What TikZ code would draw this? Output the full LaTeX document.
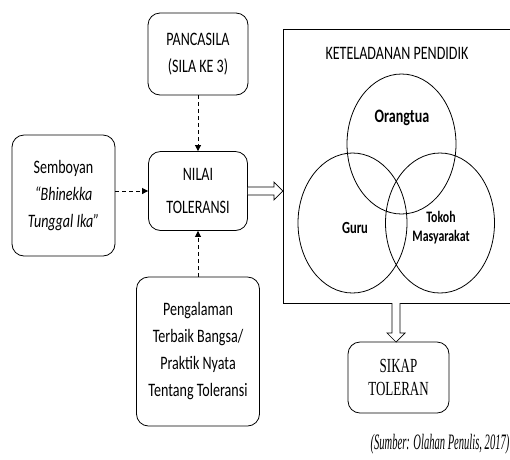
\documentclass[tikz,border=0pt]{standalone}
\usepackage{fontspec}
\setmainfont{Carlito}[FakeStretch=0.74]
\newfontfamily\serifcond{Liberation Serif}[FakeStretch=0.65]
\newfontfamily\capserif{Liberation Serif}[FakeStretch=0.48]
\usetikzlibrary{shapes,arrows.meta}
\tikzstyle{box}=[rectangle,rounded corners=12pt,draw=black,
  line width=0.8pt,inner sep=0pt,align=center,font=\fontsize{19}{27}\selectfont]
\tikzstyle{venn}=[ellipse,draw=black,line width=0.8pt,inner sep=0pt,
  minimum width=109pt,minimum height=140pt]
\tikzstyle{dasharrow}=[line width=0.7pt,dash pattern=on 4pt off 3pt,
  -{Triangle[length=6pt,width=6pt]}]
\tikzstyle{blockarrow}=[draw=black,fill=white,line width=0.7pt,line join=miter]
\begin{document}
\begin{tikzpicture}[x=1pt,y=-1pt]
    \useasboundingbox (0,0) rectangle (510,459);
    \clip (0,0) rectangle (510,459);
    \node [style=box,minimum width=100pt,minimum height=82pt] (pancasila) at (198,54) {PANCASILA\\(SILA KE 3)};
    \node [style=box,minimum width=99pt,minimum height=79pt,font=\fontsize{19}{33}\selectfont] (nilai) at (198,191) {NILAI\\TOLERANSI};
    \node [style=box,minimum width=103pt,minimum height=121pt] (semboyan) at (63.5,195.5) {Semboyan\\\textit{“Bhinekka}\\\textit{Tunggal Ika”}};
    \node [style=box,minimum width=123pt,minimum height=149pt] (pengalaman) at (198,351.5) {Pengalaman\\Terbaik Bangsa/\\Praktik Nyata\\Tentang Toleransi};
    \node [draw=black,line width=0.8pt,inner sep=0pt,anchor=north west,minimum width=240pt,minimum height=274pt] (keteladanan) at (283,29) {};
    \node [font=\fontsize{19}{23}\selectfont] (judul) at (397,53) {KETELADANAN PENDIDIK};
    \node [style=venn] (orangtua) at (401.5,144) {};
    \node [style=venn] (guru) at (352.5,223) {};
    \node [style=venn] (tokoh) at (440,223) {};
    \node [font=\bfseries\fontsize{19}{23}\selectfont] (orangtualabel) at (402,118) {Orangtua};
    \node [font=\bfseries\fontsize{17}{20}\selectfont] (gurulabel) at (355,228) {Guru};
    \node [font=\bfseries\fontsize{16}{19}\selectfont,align=center] (tokohlabel) at (441,228) {Tokoh\\Masyarakat};
    \node [style=box,minimum width=101pt,minimum height=71pt,font=\serifcond\fontsize{20}{23}\selectfont] (sikap) at (398.5,377.5) {SIKAP\\TOLERAN};
    \node [font=\capserif\itshape\fontsize{22}{24}\selectfont] (sumber) at (440,444) {(Sumber: Olahan Penulis, 2017)};
    \coordinate (pangkal) at (396,303);
    \draw [style=dasharrow] (pancasila) to (nilai);
    \draw [style=dasharrow] (nilai.west -| semboyan.east) to (nilai.west);
    \draw [style=dasharrow] (pengalaman) to (nilai);
    % hollow arrows
    \draw [style=blockarrow] ([yshift=4pt]nilai.east) -- ++(26,0) -- ++(0,-5) -- ++(9,9)
      -- ++(-9,9) -- ++(0,-5) -- ++(-26,0);
    \draw [style=blockarrow] ([xshift=-4pt]pangkal) -- ++(0,30) -- ++(-5,0) -- ++(9,9)
      -- ++(9,-9) -- ++(-5,0) -- ++(0,-30);
  \end{tikzpicture}
\end{document}
